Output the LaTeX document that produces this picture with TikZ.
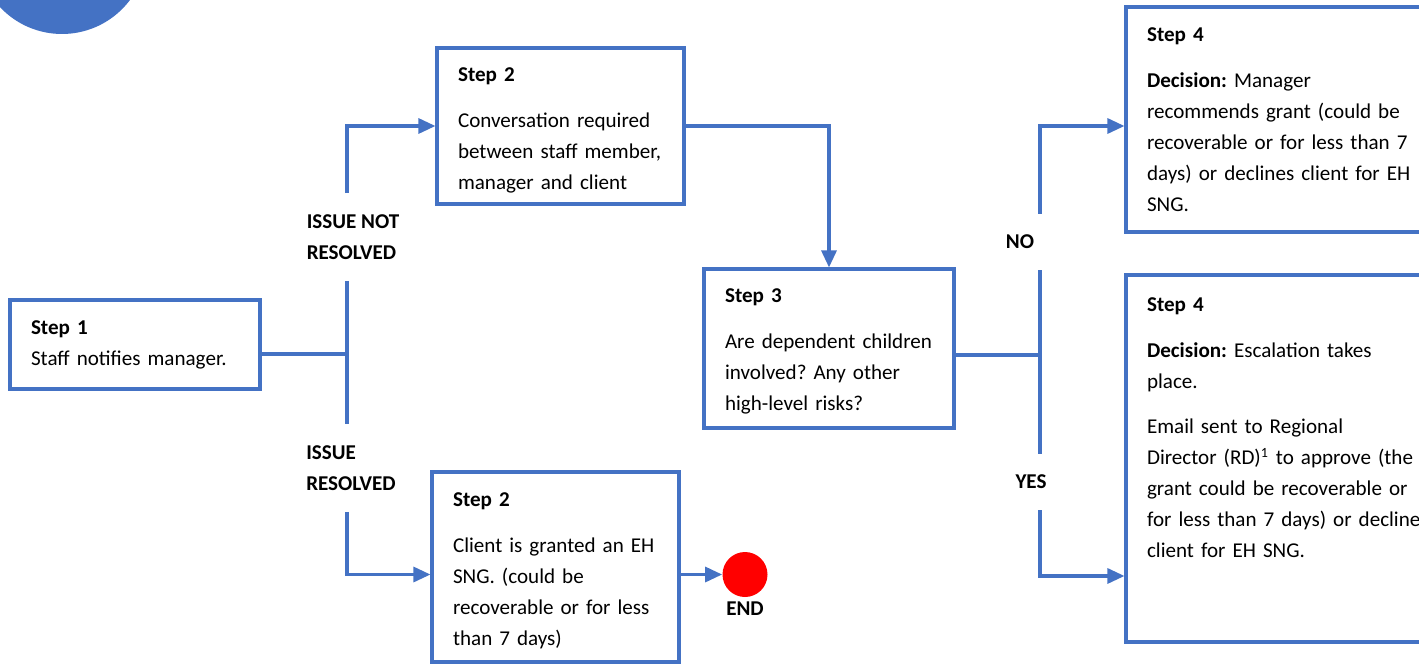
\documentclass[tikz,border=0pt]{standalone}
\usepackage{fontspec}
\setmainfont{Carlito}
\usetikzlibrary{arrows.meta}
\definecolor{linkblue}{HTML}{4472C4}
\newcommand{\boxfont}{\fontsize{12pt}{17.6pt}\selectfont\frenchspacing}
\tikzset{
  flowline/.style={draw=linkblue, line width=1.8pt},
  flowarrow/.style={flowline, -{Triangle[length=0.34cm, width=0.3cm]}},
  stepbox/.style={draw=linkblue, line width=1.8pt, fill=white, align=left, inner xsep=0.42cm, inner ysep=0pt},
  answer/.style={font=\boxfont\bfseries, align=left, inner xsep=1pt, inner ysep=0.42cm},
  endmark/.style={circle, fill=red, minimum size=0.9cm, inner sep=0pt}
}

\begin{document}
\begin{tikzpicture}[x=0.02cm, y=-0.02cm, every node/.style={font=\boxfont}]
  \useasboundingbox (0,0) rectangle (1419,663);
  \fill[linkblue] (62,-51) circle (1.7cm);

  % boxes
  \node[stepbox, text width=4.16cm, minimum height=1.78cm] (step1) at (135,344.5) {\textbf{Step 1}\\ Staff notifies manager.};
  \node[stepbox, text width=4.10cm, minimum height=3.12cm] (step2a) at (560.5,126) {\rule{0pt}{12.5pt}\textbf{Step 2}\\[8.5pt] Conversation required\\ between staff member,\\ manager and client};
  \node[stepbox, text width=4.10cm, minimum height=3.8cm] (step2b) at (555.5,567) {\rule{0pt}{12.5pt}\textbf{Step 2}\\[8.5pt] Client is granted an EH\\ SNG. (could be\\ recoverable or for less\\ than 7 days)};
  \node[stepbox, text width=4.16cm, minimum height=3.18cm] (step3) at (829,348.5) {\rule{0pt}{11pt}\textbf{Step 3}\\[8.5pt] Are dependent children\\ involved? Any other\\ high-level risks?};
  \node[stepbox, text width=5.56cm, minimum height=4.5cm] (step4a) at (1286,119.5) {\textbf{Step 4}\\[8.5pt] \textbf{Decision:} Manager\\ recommends grant (could be\\ recoverable or for less than 7\\ days) or declines client for EH\\ SNG.};
  \node[stepbox, text width=5.56cm, minimum height=7.34cm] (step4b) at (1286,458.5) {\textbf{Step 4}\\[8.5pt] \textbf{Decision:} Escalation takes\\ place.\\[8.5pt] Email sent to Regional\\ Director (RD)\textsuperscript{1} to approve (the\\ grant could be recoverable or\\ for less than 7 days) or decline\\ client for EH SNG.\\ \mbox{}\\ \mbox{}};
  \node[endmark] (endpt) at (745,574.5) {};
  \node[font=\boxfont\bfseries] (endlbl) at (745,609) {END};

  % answers
  \node[answer] (notres) at (353,237) {ISSUE NOT\\ RESOLVED};
  \node[answer] (resolved) at (351,468) {ISSUE\\ RESOLVED};
  \node[answer] (nolbl) at (1020,242) {NO};
  \node[answer] (yeslbl) at (1031,482) {YES};

  \coordinate (fork1) at (347,354);
  \coordinate (fork2) at (1040,355);

  % connectors
  \draw[flowline] (step1.east |- fork1) -- (fork1);
  \draw[flowline] (fork1 |- notres.south) -- (fork1 |- resolved.north);
  \draw[flowarrow] (fork1 |- notres.north) |- (step2a.west);
  \draw[flowarrow] (fork1 |- resolved.south) |- (step2b.west |- endpt);
  \draw[flowarrow] (step2b.east |- endpt) -- (endpt);
  \draw[flowarrow] (step2a.east) -| (step3.north);
  \draw[flowline] (step3.east |- fork2) -- (fork2);
  \draw[flowline] (fork2 |- nolbl.south) -- (fork2 |- yeslbl.north);
  \draw[flowarrow] (fork2 |- nolbl.north) |- ([yshift=-0.13cm]step4a.west);
  \draw[flowarrow] (fork2 |- yeslbl.south) |- ([yshift=-2.35cm]step4b.west);
\end{tikzpicture}
\end{document}
